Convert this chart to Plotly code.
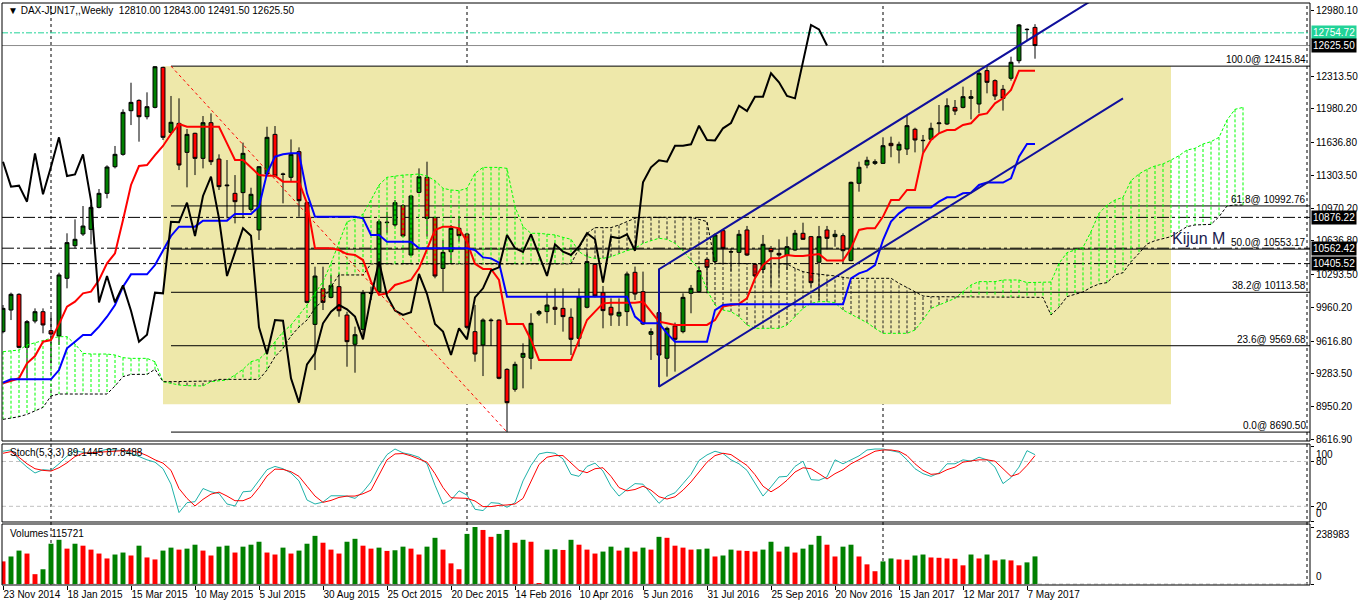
import plotly.graph_objects as go

# ---------------------------------------------------------------------------
# DAX-JUN17 weekly, bars 0..129 = weeks of 23 Nov 2014 .. 14 May 2017
# ---------------------------------------------------------------------------
opens = [9713, 9933, 10093, 9553, 9821, 9916, 9723, 9669, 10256, 10588,
         10707, 10754, 10978, 11121, 11392, 11518, 11962, 12067, 11901, 11996,
         12403, 11742, 11833, 11538, 11732, 11477, 11840, 11470, 11206, 11121,
         11128, 10958, 10748, 11318, 11721, 11318, 11284, 11545, 11026, 9787,
         10150, 10062, 10171, 9882, 9584, 9736, 10110, 10120, 10822, 10799,
         10995, 10493, 11131, 11284, 10876, 10357, 10527, 10765, 10707, 9713,
         9577, 9831, 9831, 9329, 9126, 9452, 9442, 9893, 9917, 9961,
         9950, 9859, 9645, 9961, 10398, 10110, 9961, 9872, 9917, 10317,
         10120, 9686, 9906, 9442, 9771, 9713, 10103, 10120, 10449, 10426,
         10741, 10527, 10520, 10748, 10398, 10347, 10561, 10510, 10493, 10544,
         10714, 10680, 10419, 10748, 10680, 10690, 10436, 11223, 11409, 11426,
         11426, 11630, 11562, 11572, 11773, 11657, 11671, 11830, 11827, 11996,
         11996, 12088, 12030, 12370, 12268, 12180, 12292, 12471, 12787, 12810]
highs = [9984, 10110, 10103, 9831, 9950, 9950, 9882, 10313, 10714, 10856,
         10992, 11002, 11165, 11406, 11603, 11976, 12247, 12078, 12149, 12416,
         12410, 12112, 12088, 11776, 11738, 11908, 11935, 11518, 11460, 11307,
         11637, 11178, 11399, 11799, 11806, 11331, 11670, 11589, 11036, 10374,
         10374, 10290, 10306, 9916, 9764, 10137, 10171, 10856, 10934, 11053,
         11012, 11104, 11375, 11443, 10883, 10646, 10799, 10890, 10720, 9984,
         9848, 9848, 9838, 9340, 9407, 9594, 9900, 9933, 10103, 10154,
         10154, 9950, 10154, 10527, 10409, 10178, 10052, 10052, 10324, 10375,
         10324, 9747, 10341, 9764, 9805, 10103, 10188, 10375, 10459, 10714,
         10755, 10561, 10748, 10789, 10409, 10697, 10585, 10653, 10680, 10748,
         10822, 10687, 10789, 10789, 10748, 10714, 11240, 11443, 11494, 11467,
         11691, 11698, 11647, 11908, 11789, 11715, 11840, 12020, 12088, 12071,
         12207, 12173, 12376, 12417, 12281, 12224, 12512, 12845, 12801, 12843]
lows = [9696, 9831, 9543, 9238, 9798, 9696, 9390, 9577, 10154, 10561,
        10687, 10602, 10968, 11070, 11375, 11504, 11816, 11647, 11874, 11986,
        11664, 11715, 11358, 11182, 11307, 11375, 11409, 11155, 10866, 10815,
        10866, 10934, 10646, 11307, 11284, 11019, 11240, 10883, 10001, 9322,
        9933, 10052, 9865, 9356, 9295, 9645, 10035, 10103, 10714, 10782,
        10680, 10483, 11121, 10680, 10256, 10120, 10408, 10629, 9736, 9407,
        9261, 9567, 9228, 8690.5, 9102, 9136, 9330, 9872, 9798, 9781,
        9713, 9475, 9560, 9950, 10062, 9747, 9771, 9771, 9771, 10035,
        9781, 9425, 9153, 9255, 9306, 9696, 9900, 10110, 10103, 10409,
        10409, 10324, 10409, 10483, 10266, 10307, 10171, 10273, 10341, 10537,
        10646, 10171, 10035, 10551, 10578, 10409, 10429, 11138, 11376, 11409,
        11420, 11488, 11426, 11511, 11538, 11535, 11664, 11732, 11817, 11918,
        11986, 11874, 11935, 12139, 12071, 11963, 12268, 12444, 12682, 12491.5]
closes = [9950, 10093, 9553, 9815, 9916, 9781, 9689, 10290, 10619, 10653,
          10788, 10978, 11121, 11389, 11518, 11945, 12047, 11901, 12003, 12410,
          11691, 11844, 11409, 11721, 11477, 11840, 11443, 11189, 11199, 11036,
          11528, 11111, 11392, 11691, 11297, 11314, 11518, 11046, 10011, 10279,
          10011, 10184, 9926, 9611, 9682, 10110, 10103, 10832, 10826, 11026,
          10687, 11094, 11290, 10866, 10279, 10520, 10765, 10690, 9757, 9485,
          9831, 9825, 9238, 8990, 9380, 9492, 9798, 9917, 9984, 9940,
          9866, 9635, 10069, 10426, 10076, 9927, 9883, 9910, 10300, 10096,
          9791, 9713, 9475, 9747, 9635, 10062, 10154, 10334, 10368, 10697,
          10561, 10524, 10704, 10493, 10280, 10602, 10527, 10493, 10578, 10714,
          10653, 10212, 10680, 10663, 10704, 10537, 11233, 11386, 11457, 11443,
          11606, 11606, 11620, 11810, 11664, 11660, 11783, 11837, 12013, 11959,
          12105, 12105, 12343, 12251, 12112, 12088, 12455, 12835, 12790, 12625.5]

# Ichimoku lines
tenkan = [9187, 9214, 9238, 9390, 9465, 9611, 9628, 9790, 9967, 10018,
          10103, 10120, 10239, 10408, 10510, 10849, 11206, 11399, 11409, 11511,
          11603, 11725, 11827, 11799, 11799, 11799, 11799, 11799, 11630, 11460,
          11460, 11385, 11307, 11301, 11301, 11240, 11240, 11240, 11019, 10561,
          10561, 10561, 10544, 10503, 10493, 10442, 10222, 10086, 10103, 10188,
          10212, 10239, 10357, 10544, 10748, 10782, 10782, 10765, 10629, 10402,
          10351, 10351, 10239, 9791, 9791, 9791, 9628, 9425, 9425, 9425,
          9425, 9425, 9628, 9832, 9917, 10001, 10008, 10008, 10008, 10008,
          10018, 9917, 9815, 9798, 9781, 9781, 9781, 9781, 9781, 9832,
          9968, 9984, 9995, 10052, 10256, 10391, 10459, 10459, 10493, 10483,
          10483, 10493, 10504, 10436, 10436, 10436, 10561, 10748, 10765, 10765,
          10884, 11053, 11053, 11155, 11155, 11528, 11664, 11732, 11766, 11766,
          11817, 11834, 11918, 11935, 12037, 12088, 12173, 12370, 12370, 12370]
kijun = [9194, 9228, 9228, 9228, 9228, 9228, 9228, 9322, 9543, 9611,
         9679, 9679, 9764, 9865, 9984, 10171, 10296, 10296, 10296, 10391,
         10544, 10687, 10782, 10782, 10782, 10843, 10843, 10843, 10843, 10910,
         10910, 10910, 10985, 11324, 11494, 11518, 11528, 11528, 11121, 10883,
         10883, 10883, 10883, 10883, 10883, 10866, 10697, 10697, 10629, 10629,
         10629, 10629, 10561, 10561, 10561, 10561, 10561, 10561, 10561, 10544,
         10469, 10459, 10415, 10069, 10069, 10069, 10069, 10069, 10069, 10069,
         10069, 10069, 10069, 10069, 10069, 10069, 10069, 10069, 10069, 9866,
         9798, 9798, 9798, 9696, 9611, 9611, 9611, 9611, 9611, 9933,
         9984, 9991, 9991, 9991, 9991, 9991, 9991, 9991, 9991, 9991,
         9991, 9991, 9991, 9991, 9991, 9991, 10256, 10307, 10334, 10391,
         10646, 10833, 10917, 10978, 10978, 10978, 10978, 11036, 11080, 11080,
         11121, 11128, 11206, 11230, 11230, 11230, 11274, 11494, 11623, 11623]
# senkou spans run 26 bars past the last candle (bars 0..155)
span_a = [9509, 9519, 9526, 9577, 9601, 9618, 9645, 9662, 9662, 9587,
          9492, 9485, 9485, 9485, 9475, 9448, 9441, 9441, 9441, 9407,
          9204, 9187, 9170, 9163, 9160, 9160, 9204, 9214, 9221, 9272,
          9329, 9407, 9431, 9509, 9611, 9710, 9780, 9882, 9984, 10103,
          10222, 10408, 10629, 10832, 10856, 10910, 11053, 11206, 11284, 11297,
          11307, 11311, 11318, 11297, 11250, 11172, 11155, 11148, 11172, 11324,
          11385, 11385, 11385, 11375, 10985, 10782, 10714, 10714, 10707, 10697,
          10673, 10653, 10527, 10476, 10459, 10459, 10476, 10510, 10537, 10561,
          10612, 10639, 10663, 10653, 10612, 10537, 10436, 10347, 10137, 9984,
          9933, 9917, 9866, 9781, 9747, 9747, 9747, 9747, 9781, 9866,
          9950, 10001, 10018, 10018, 10008, 9933, 9893, 9849, 9805, 9747,
          9696, 9696, 9696, 9696, 9730, 9832, 9950, 9984, 10018, 10052,
          10120, 10188, 10222, 10222, 10222, 10239, 10239, 10239, 10212, 10212,
          10212, 10218, 10408, 10517, 10544, 10571, 10731, 10917, 11002, 11053,
          11080, 11250, 11318, 11365, 11399, 11420, 11460, 11504, 11562, 11579,
          11623, 11647, 11691, 11867, 11976, 11996]
span_b = [8820, 8830, 8847, 8871, 8909, 8942, 9058, 9078, 9078, 9078,
          9078, 9078, 9078, 9078, 9160, 9255, 9278, 9278, 9278, 9330,
          9204, 9204, 9204, 9204, 9204, 9204, 9210, 9227, 9227, 9227,
          9227, 9227, 9227, 9322, 9458, 9543, 9669, 9760, 9831, 9950,
          10035, 10171, 10290, 10290, 10290, 10290, 10402, 10402, 10402, 10402,
          10402, 10402, 10402, 10402, 10402, 10402, 10402, 10402, 10402, 10402,
          10402, 10402, 10402, 10402, 10402, 10402, 10402, 10402, 10402, 10402,
          10402, 10402, 10561, 10714, 10772, 10772, 10772, 10799, 10833, 10867,
          10877, 10877, 10877, 10877, 10877, 10877, 10877, 10856, 10833, 10409,
          10409, 10409, 10409, 10409, 10409, 10409, 10409, 10409, 10402, 10358,
          10324, 10307, 10300, 10290, 10280, 10266, 10256, 10256, 10256, 10256,
          10256, 10256, 10205, 10164, 10120, 10076, 10069, 10069, 10069, 10069,
          10069, 10069, 10069, 10069, 10069, 10062, 10062, 10062, 10062, 10062,
          10062, 9883, 9961, 10069, 10096, 10117, 10164, 10198, 10212, 10290,
          10313, 10425, 10510, 10605, 10639, 10656, 10680, 10731, 10782, 10799,
          10799, 10805, 10883, 10992, 11002, 11002]
chikou_shift = 26

stoch_main = [93.7, 95.4, 82.2, 72.5, 64.6, 69.0, 68.1, 76.9, 87.0, 94.5,
              92.3, 91.0, 93.7, 96.3, 95.4, 94.5, 91.0, 86.6, 82.2, 79.1,
              70.3, 49.6, 11.6, 24.9, 26.2, 43.8, 39.4, 37.2, 23.1, 20.5,
              39.4, 40.3, 54.9, 69.0, 73.4, 70.3, 64.6, 54.0, 28.4, 23.1,
              25.7, 34.1, 34.1, 33.7, 30.6, 39.4, 52.6, 73.4, 89.2, 96.7,
              91.5, 89.2, 85.7, 76.9, 48.2, 23.1, 28.4, 40.7, 35.0, 16.0,
              14.3, 24.9, 24.0, 18.7, 24.9, 54.0, 74.7, 90.1, 92.3, 91.0,
              83.5, 62.8, 60.1, 73.4, 77.8, 67.2, 46.9, 33.7, 42.5, 50.4,
              49.6, 37.2, 24.0, 33.7, 38.1, 50.4, 62.8, 81.3, 88.8, 93.7,
              90.6, 82.2, 76.9, 68.1, 50.4, 33.7, 46.0, 59.3, 60.1, 73.4,
              80.4, 55.7, 54.9, 59.3, 82.2, 76.9, 82.2, 87.5, 95.4, 96.7,
              96.7, 94.5, 92.3, 82.2, 70.3, 63.7, 60.1, 64.6, 76.9, 76.9,
              82.2, 80.4, 85.7, 82.2, 72.5, 50.4, 58.4, 72.5, 94.5, 89.1445]
stoch_signal = [91.0, 93.2, 85.7, 76.9, 70.3, 68.1, 67.2, 71.6, 78.2, 86.6,
                91.0, 91.9, 92.8, 93.7, 94.1, 94.5, 94.1, 92.3, 87.9, 82.2,
                77.8, 68.1, 43.8, 30.6, 20.5, 29.3, 36.3, 39.0, 33.7, 27.5,
                27.5, 31.9, 45.1, 60.6, 69.8, 69.4, 66.3, 60.1, 46.9, 33.7,
                25.3, 27.9, 31.9, 33.7, 33.7, 36.8, 41.6, 61.5, 82.2, 90.1,
                90.6, 87.5, 83.5, 79.1, 63.7, 45.1, 31.5, 30.6, 30.6, 27.1,
                19.6, 19.6, 21.3, 21.8, 23.1, 30.6, 52.6, 76.0, 85.7, 87.9,
                87.9, 77.8, 68.1, 65.0, 70.3, 71.6, 60.1, 45.1, 40.7, 42.5,
                46.9, 41.6, 32.8, 29.7, 32.8, 41.6, 52.6, 65.9, 79.1, 87.9,
                91.0, 89.2, 82.2, 74.7, 62.3, 46.9, 39.4, 46.0, 54.9, 65.9,
                71.6, 70.3, 63.7, 56.6, 63.7, 69.0, 76.9, 82.2, 87.9, 93.7,
                95.4, 95.4, 93.7, 87.9, 76.9, 68.1, 62.8, 63.7, 69.0, 72.5,
                79.1, 80.4, 82.2, 82.2, 80.4, 70.3, 60.1, 63.7, 74.7, 87.8488]
stoch_levels = [80, 20]

volumes = [94800, 115400, 140100, 127700, 41200, 61800, 168900, 185400, 148300, 168900,
           160700, 144200, 127700, 107100, 123600, 131900, 119500, 160700, 111300, 103000,
           140100, 152500, 144200, 148300, 164800, 140100, 119500, 156600, 160700, 131900,
           156600, 164800, 177200, 131900, 123600, 152500, 127700, 140100, 168900, 201900,
           173100, 144200, 127700, 177200, 189500, 160700, 148300, 152500, 138700, 141500,
           156600, 148300, 123600, 156600, 193700, 144200, 86500, 61800, 210100, 238983,
           226600, 197800, 210100, 226600, 173100, 185400, 177200, 2700, 144200, 145600,
           142800, 185400, 164800, 144200, 127700, 136000, 156600, 140100, 152500, 136000,
           152500, 144200, 197800, 193700, 160700, 152500, 144200, 145600, 148300, 115400,
           119500, 144200, 140100, 138700, 136000, 144200, 177200, 136000, 156600, 131900,
           148300, 164800, 201900, 164800, 115400, 156600, 164800, 115400, 82400, 53600,
           94800, 107100, 103000, 101600, 119500, 123600, 111300, 109900, 107100, 105800,
           78300, 123600, 107100, 123600, 98900, 103000, 98900, 78300, 90700, 115721]
volume_max = 238983

date_ticks = [0, 8, 16, 24, 32, 40, 48, 56, 64, 72, 80, 88, 96, 104, 112, 120, 128]
date_labels = ["23 Nov 2014", "18 Jan 2015", "15 Mar 2015", "10 May 2015", "5 Jul 2015",
               "30 Aug 2015", "25 Oct 2015", "20 Dec 2015", "14 Feb 2016", "10 Apr 2016",
               "5 Jun 2016", "31 Jul 2016", "25 Sep 2016", "20 Nov 2016", "15 Jan 2017",
               "12 Mar 2017", "7 May 2017"]
price_ticks = [12980.10, 12313.50, 11980.20, 11636.80, 11303.50, 10970.20, 10636.80,
               10293.50, 9960.20, 9616.80, 9283.50, 8950.20, 8616.90]

# drawn objects
fib_levels = [100.0, 61.8, 50.0, 38.2, 23.6, 0.0]
fib_prices = [12415.84, 10992.76, 10553.17, 10113.58, 9569.68, 8690.50]
fib_bars = [21, 63]
zone_bars = [20, 146]
zone_prices = [8973, 12415.84]
channel_upper_bars = [82, 136]
channel_upper = [10348, 13080]
channel_lower_bars = [82, 140]
channel_lower = [9153, 12088]
level_prices = [12754.72, 12625.50, 10876.22, 10562.42, 10405.52]
separator_bars = [6, 58, 110, 163]
note_bar, note_price, note_text = 145.9, 10663, "Kijun M"

X_MIN, X_MAX = -0.125, 163.375
bars = list(range(len(closes)))
fut = list(range(len(span_a)))

GREEN, RED, LIME = "#008000", "#FF0000", "#00FF00"
FONT = "Liberation Sans, Arial, sans-serif"

fig = go.Figure()

# --- background zone + lines (shapes under the traces) ---
fig.add_shape(type="rect", xref="x", yref="y", x0=zone_bars[0], x1=zone_bars[1],
              y0=zone_prices[0], y1=zone_prices[1], fillcolor="#EEE8AA",
              line_width=0, layer="below")
for p in fib_prices:
    fig.add_shape(type="line", xref="x", yref="y", x0=fib_bars[0], x1=X_MAX, y0=p, y1=p,
                  line=dict(color="black", width=1), layer="below")
level_styles = [dict(color="#22D398", width=1, dash="6px,2px,2px,2px"),
                dict(color="#8C8C8C", width=1),
                dict(color="black", width=1, dash="12px,3px,3px,3px"),
                dict(color="black", width=1, dash="12px,3px,3px,3px"),
                dict(color="black", width=1, dash="12px,3px,3px,3px")]
for p, st in zip(level_prices, level_styles):
    fig.add_shape(type="line", xref="x", yref="y", x0=X_MIN, x1=X_MAX, y0=p, y1=p,
                  line=st, layer="below")
for b in separator_bars:
    fig.add_shape(type="line", xref="x", yref="paper", x0=b, x1=b, y0=0, y1=1,
                  line=dict(color="black", width=1, dash="3px,3px"), layer="below")
for lv in stoch_levels:
    fig.add_shape(type="line", xref="x", yref="y2", x0=X_MIN, x1=X_MAX, y0=lv, y1=lv,
                  line=dict(color="#C0C0C0", width=1, dash="4px,3px"), layer="below")
fig.add_shape(type="line", xref="x", yref="y3", x0=X_MIN, x1=X_MAX, y0=0, y1=0,
              line=dict(color="#C0C0C0", width=1, dash="4px,3px"), layer="below")

# --- kumo hatching ---
hx_g, hy_g, hx_k, hy_k = [], [], [], []
for i, (a, b) in enumerate(zip(span_a, span_b)):
    if a >= b:
        hx_g += [i, i, None]
        hy_g += [a, b, None]
    else:
        hx_k += [i, i, None]
        hy_k += [a, b, None]
fig.add_trace(go.Scatter(x=hx_g, y=hy_g, mode="lines", hoverinfo="skip",
                         line=dict(color=LIME, width=1, dash="3px,2px")))
fig.add_trace(go.Scatter(x=hx_k, y=hy_k, mode="lines", hoverinfo="skip",
                         line=dict(color="#202020", width=1, dash="3px,2px")))
fig.add_trace(go.Scatter(x=fut, y=span_a, mode="lines", name="Senkou A",
                         line=dict(color=LIME, width=1, dash="3px,2px")))
fig.add_trace(go.Scatter(x=fut, y=span_b, mode="lines", name="Senkou B",
                         line=dict(color="black", width=1, dash="3px,2px")))

# --- candles ---
fig.add_trace(go.Candlestick(
    x=bars, open=opens, high=highs, low=lows, close=closes, whiskerwidth=0,
    increasing=dict(line=dict(color="black", width=1), fillcolor=GREEN),
    decreasing=dict(line=dict(color="black", width=1), fillcolor=RED),
    hoverinfo="skip", name="DAX"))

# --- ichimoku lines ---
fig.add_trace(go.Scatter(x=bars, y=tenkan, mode="lines", name="Tenkan",
                         line=dict(color=RED, width=2)))
fig.add_trace(go.Scatter(x=bars, y=kijun, mode="lines", name="Kijun",
                         line=dict(color="#0000FF", width=2)))
fig.add_trace(go.Scatter(x=bars[:len(bars) - chikou_shift], y=closes[chikou_shift:],
                         mode="lines", name="Chikou", line=dict(color="black", width=2)))

# --- channel and fibo base line ---
fig.add_trace(go.Scatter(x=channel_upper_bars[::-1] + channel_lower_bars,
                         y=channel_upper[::-1] + channel_lower,
                         mode="lines", line=dict(color="#10109C", width=2)))
fig.add_trace(go.Scatter(x=fib_bars, y=[fib_prices[0], fib_prices[-1]], mode="lines",
                         line=dict(color=RED, width=1, dash="3px,3px")))

# --- stochastic ---
fig.add_trace(go.Scatter(x=bars, y=stoch_main, yaxis="y2", mode="lines",
                         line=dict(color="#20B2AA", width=1)))
fig.add_trace(go.Scatter(x=bars, y=stoch_signal, yaxis="y2", mode="lines",
                         line=dict(color=RED, width=1)))

# --- volumes: green when up on previous bar ---
vol_colors = [RED if i == 0 or v <= volumes[i - 1] else GREEN for i, v in enumerate(volumes)]
fig.add_trace(go.Bar(x=bars, y=volumes, yaxis="y3", width=0.62,
                     marker=dict(color=vol_colors, line_width=0)))

# --- panel frames ---
for ref in ["y domain", "y2 domain", "y3 domain"]:
    fig.add_shape(type="rect", xref="paper", yref=ref, x0=0, x1=1, y0=0, y1=1,
                  line=dict(color="black", width=1))

# --- texts ---
ann = []
ann.append(dict(xref="paper", yref="paper", x=0.003, y=0.9863, xanchor="left",
                yanchor="middle", showarrow=False, font=dict(size=10),
                text="▼ DAX-JUN17,,Weekly\u00a0\u00a012810.00 12843.00 12491.50 12625.50"))
ann.append(dict(xref="paper", yref="paper", x=0.0046, y=0.2285, xanchor="left",
                yanchor="middle", showarrow=False, font=dict(size=10),
                text=f"Stoch(5,3,3) {stoch_main[-1]:.4f} {stoch_signal[-1]:.4f}"))
ann.append(dict(xref="paper", yref="paper", x=0.0046, y=0.0893, xanchor="left",
                yanchor="middle", showarrow=False, font=dict(size=10),
                text=f"Volumes {volumes[-1]}"))
for lv, p in zip(fib_levels, fib_prices):
    ann.append(dict(xref="paper", yref="y", x=1, y=p, xanchor="right", yanchor="bottom",
                    xshift=-2, yshift=-1, showarrow=False, font=dict(size=10),
                    text=f"{lv:.1f}@ {p:.2f}"))
box_colors = ["#22D398", "black", "black", "black", "black"]
for p, c in zip(level_prices, box_colors):
    ann.append(dict(xref="paper", yref="y", x=1, y=p, xanchor="left", yanchor="middle",
                    xshift=1, showarrow=False, bgcolor=c, borderpad=1,
                    font=dict(size=10, color="white"), text=f"{p:.2f}"))
# end labels of the lower panels sit inside the panel like the terminal does
for ref, val, anchor in [("y2", 100, "top"), ("y2", 0, "bottom"),
                         ("y3", volume_max, "top"), ("y3", 0, "bottom")]:
    ann.append(dict(xref="paper", yref=ref, x=1, y=val, xanchor="left", yanchor=anchor,
                    xshift=4, showarrow=False, font=dict(size=10), text=str(val)))
ann.append(dict(xref="x", yref="y", x=note_bar, y=note_price, xanchor="left",
                yanchor="middle", showarrow=False, font=dict(size=16, color="#1a1a4e"),
                text=note_text))

axis_common = dict(showgrid=False, zeroline=False, side="right", anchor="x",
                   ticks="outside", ticklen=3, tickcolor="black", fixedrange=True,
                   automargin=False, tickfont=dict(size=10, color="black"))
fig.update_layout(
    width=1358, height=606,
    margin=dict(l=2, r=48, t=3, b=21, autoexpand=False),
    paper_bgcolor="white", plot_bgcolor="white",
    showlegend=False, hovermode=False,
    font=dict(family=FONT, size=10, color="black"),
    annotations=ann,
    xaxis=dict(range=[X_MIN, X_MAX], anchor="y3", showgrid=False, zeroline=False,
               tickvals=date_ticks, ticktext=date_labels, ticks="outside", ticklen=4,
               tickcolor="black", ticklabelposition="outside right", tickangle=0,
               automargin=False, tickfont=dict(size=10, color="black"),
               rangeslider=dict(visible=False), fixedrange=True),
    yaxis=dict(domain=[0.24742, 1], range=[8599.8, 13058.5], tickvals=price_ticks,
               ticktext=[f"{v:.2f}" for v in price_ticks], **axis_common),
    yaxis2=dict(domain=[0.10825, 0.24227], range=[-1.0, 103.4],
                tickvals=[100, 80, 20, 0], ticktext=["", "80", "20", ""], **axis_common),
    yaxis3=dict(domain=[0, 0.10481], range=[-4200, 251600],
                tickvals=[volume_max, 0], ticktext=["", ""], **axis_common),
)

# the page body margin would shift the chart; pin it to the window corner
fig.write_html("out.html", config={"displayModeBar": False},
               post_script="document.body.style.margin='0px';")
